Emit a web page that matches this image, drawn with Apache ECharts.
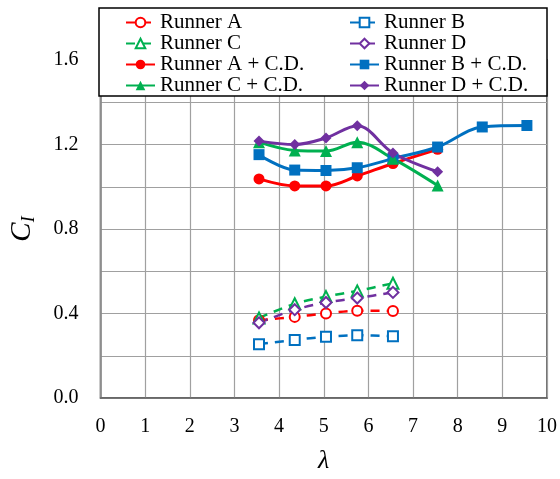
<!DOCTYPE html>
<html lang="en">
<head>
    <meta http-equiv="content-type" content="text/html; charset=utf-8" />
    <script type="text/javascript" src="https://cdn.jsdelivr.net/npm/echarts@6/dist/echarts.min.js"></script>
    <title>CI vs lambda</title>
    <style>
        html, body { margin: 0; padding: 0; background: #fff; }
        #chart { width: 560px; height: 479px; }
    </style>
</head>
<body>
<div id="chart"></div>
<script type="text/javascript">
    // 数据
    var lambdaShort = [3.55, 4.35, 5.05, 5.75, 6.55];
    var lambdaCD = [3.55, 4.35, 5.05, 5.75, 6.55, 7.55];
    var lambdaBCD = [3.55, 4.35, 5.05, 5.75, 6.55, 7.55, 8.55, 9.55];

    var runnerA = [0.368, 0.384, 0.400, 0.413, 0.412];
    var runnerB = [0.255, 0.275, 0.290, 0.297, 0.292];
    var runnerC = [0.379, 0.446, 0.480, 0.507, 0.543];
    var runnerD = [0.356, 0.418, 0.452, 0.473, 0.500];

    var runnerACD = [1.037, 1.004, 1.004, 1.051, 1.110, 1.177];
    var runnerBCD = [1.152, 1.079, 1.077, 1.090, 1.133, 1.188, 1.283, 1.290];
    var runnerCCD = [1.211, 1.172, 1.169, 1.211, 1.133, 1.006];
    var runnerDCD = [1.216, 1.200, 1.231, 1.289, 1.160, 1.071];

    var RED = '#ff0000', BLUE = '#0070c0', GREEN = '#00b050', PURPLE = '#7030a0';
    var FONT = '"Liberation Serif", "DejaVu Serif", serif';

    function pairs(xs, ys) {
        var out = [];
        for (var i = 0; i < ys.length; i++) { out.push([xs[i], ys[i]]); }
        return out;
    }

    function dashed(name, xs, ys, color, symbol, size) {
        return {
            name: name, type: 'line', data: pairs(xs, ys),
            symbol: symbol, symbolSize: size, smooth: 0.3,
            lineStyle: { color: color, width: 2.5, type: [9, 7] },
            itemStyle: { color: color, borderColor: color, borderWidth: 1.2 },
            z: 3
        };
    }
    function solid(name, xs, ys, color, symbol, size) {
        return {
            name: name, type: 'line', data: pairs(xs, ys),
            symbol: symbol, symbolSize: size, smooth: 0.35,
            lineStyle: { color: color, width: 3 },
            itemStyle: { color: color },
            z: 4
        };
    }

    var legendText = { fontFamily: FONT, fontSize: 21, lineHeight: 21, color: '#000' };

    var chart = echarts.init(document.getElementById('chart'));
    chart.setOption({
        animation: false,
        backgroundColor: '#fff',
        grid: { left: 97, right: 12, top: 60, bottom: 76, show: true, borderColor: '#444', borderWidth: 1.5 },
        xAxis: {
            type: 'value', min: 0, max: 10, interval: 1,
            name: 'λ', nameLocation: 'middle', nameGap: 50,
            nameTextStyle: { fontFamily: FONT, fontStyle: 'italic', fontSize: 26, color: '#000' },
            axisLine: { lineStyle: { color: '#666', width: 1.5 } },
            axisTick: { show: false },
            axisLabel: { fontFamily: FONT, fontSize: 20, color: '#000', margin: 19 },
            splitLine: { lineStyle: { color: '#a0a0a0', width: 1.2 } }
        },
        yAxis: {
            type: 'value', min: 0, max: 1.6, interval: 0.2,
            name: '{c|C}{s|I}', nameLocation: 'middle', nameGap: 62, nameRotate: 90,
            nameTextStyle: {
                rich: {
                    c: { fontFamily: FONT, fontStyle: 'italic', fontSize: 29, color: '#000' },
                    s: { fontFamily: FONT, fontStyle: 'italic', fontSize: 18, color: '#000', padding: [14, 0, 0, 0] }
                }
            },
            axisLine: { show: true, lineStyle: { color: '#888', width: 1.5 } },
            axisTick: { show: false },
            axisLabel: {
                fontFamily: FONT, fontSize: 20, color: '#000', margin: 22,
                formatter: function (v) {
                    var k = Math.round(v * 10);
                    return (k % 4 === 0) ? (k / 10).toFixed(1) : '';
                }
            },
            splitLine: { lineStyle: { color: '#a0a0a0', width: 1.2 } }
        },
        graphic: [{
            type: 'rect', z: 3,
            shape: { x: 99, y: 8, width: 448, height: 88 },
            style: { fill: '#fff', stroke: '#000', lineWidth: 1.5 }
        }],
        legend: [{
            orient: 'vertical', left: 120, top: 7, itemGap: 0, itemWidth: 29, itemHeight: 12, z: 6,
            textStyle: legendText,
            data: ['Runner A', 'Runner C', 'Runner A + C.D.', 'Runner C + C.D.']
        }, {
            orient: 'vertical', left: 344, top: 7, itemGap: 0, itemWidth: 29, itemHeight: 12, z: 6,
            textStyle: legendText,
            data: ['Runner B', 'Runner D', 'Runner B + C.D.', 'Runner D + C.D.']
        }],
        series: [
            dashed('Runner A', lambdaShort, runnerA, RED, 'emptyCircle', 10),
            dashed('Runner B', lambdaShort, runnerB, BLUE, 'emptyRect', 10),
            dashed('Runner C', lambdaShort, runnerC, GREEN, 'emptyTriangle', 11),
            dashed('Runner D', lambdaShort, runnerD, PURPLE, 'emptyDiamond', 11),
            solid('Runner A + C.D.', lambdaCD, runnerACD, RED, 'circle', 11),
            solid('Runner B + C.D.', lambdaBCD, runnerBCD, BLUE, 'rect', 11),
            solid('Runner C + C.D.', lambdaCD, runnerCCD, GREEN, 'triangle', 12),
            solid('Runner D + C.D.', lambdaCD, runnerDCD, PURPLE, 'diamond', 11)
        ]
    });
</script>
</body>
</html>
